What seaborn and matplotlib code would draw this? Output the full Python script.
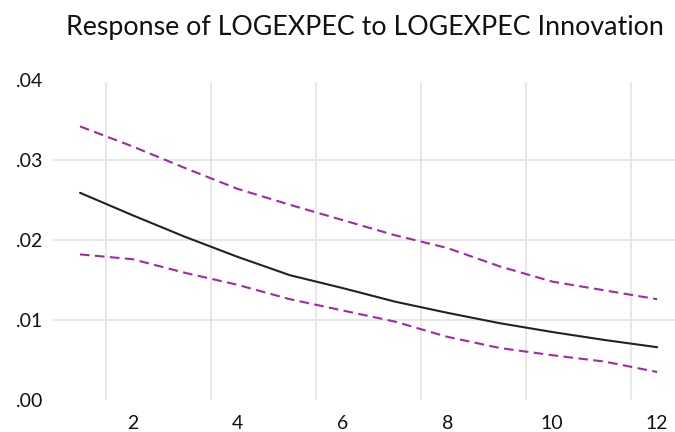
import matplotlib
matplotlib.use("Agg")
import matplotlib.pyplot as plt
import seaborn as sns
import pandas as pd

periods = list(range(1, 13))
response = [0.0259, 0.0231, 0.0204, 0.0179, 0.0156, 0.0140, 0.0123, 0.0109, 0.0096, 0.0085, 0.0075, 0.0066]
upper = [0.0342, 0.0317, 0.0290, 0.0264, 0.0244, 0.0225, 0.0206, 0.0190, 0.0167, 0.0148, 0.0137, 0.0126]
lower = [0.0182, 0.0176, 0.0159, 0.0144, 0.0126, 0.0112, 0.0098, 0.0079, 0.0065, 0.0056, 0.0048, 0.0035]
y_ticks = [0.00, 0.01, 0.02, 0.03, 0.04]
y_labels = [".00", ".01", ".02", ".03", ".04"]
x_ticks = [2, 4, 6, 8, 10, 12]
title = "Response of LOGEXPEC to LOGEXPEC Innovation"

sns.set_theme(style="white")
plt.rcParams['font.family'] = ['Lato', 'DejaVu Sans']

df = pd.DataFrame({"period": periods, "response": response, "upper": upper, "lower": lower})

fig = plt.figure(figsize=(6.75, 4.32), dpi=100)
ax = fig.add_axes([53/675, 1 - 400/432, 1 - 53/675, (400 - 80)/432])

purple = "#a328a6"
sns.lineplot(data=df, x="period", y="upper", ax=ax, color=purple, lw=1.5)
sns.lineplot(data=df, x="period", y="lower", ax=ax, color=purple, lw=1.5)
sns.lineplot(data=df, x="period", y="response", ax=ax, color="#222222", lw=1.5)
for ln in ax.lines[:2]:
    ln.set_linestyle((0, (4.6, 2.6)))

ax.set_xlim(0.485, 12.34)
ax.set_ylim(0.0, 0.04)
ax.set_xticks(x_ticks)
ax.set_xticklabels([str(t) for t in x_ticks])
ax.set_yticks(y_ticks)
ax.set_yticklabels(y_labels)

ax.grid(False)
for yv in y_ticks[1:-1]:
    ax.axhline(yv, color="#e6e6e6", lw=1.3, zorder=0)
for xv in [1.5, 3.5, 5.5, 7.5, 9.5, 11.5]:
    ax.axvline(xv, ymin=0, ymax=0.99, color="#e6e6e6", lw=1.3, zorder=0)

for s in ax.spines.values():
    s.set_visible(False)
ax.tick_params(axis="both", which="both", length=0, labelsize=14, colors="#111111")
ax.tick_params(axis="x", pad=11)
ax.tick_params(axis="y", pad=7)
ax.set_xlabel("")
ax.set_ylabel("")

fig.text(365/675, 1 - 35/432, title, ha="center", va="baseline", fontsize=19.3, color="#111111")

fig.savefig("out.png", dpi=100)
